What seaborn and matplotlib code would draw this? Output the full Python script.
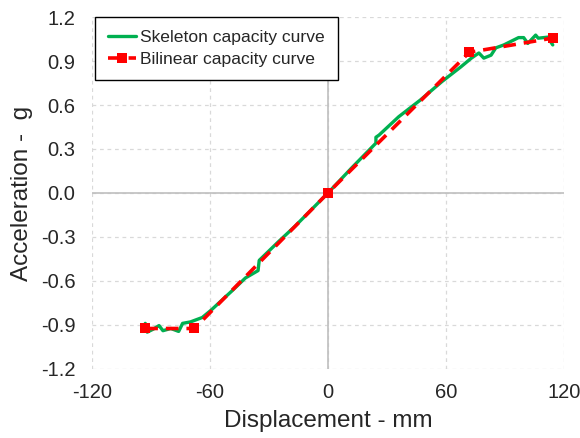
import pandas as pd
import matplotlib
matplotlib.use("Agg")
import matplotlib.pyplot as plt
import seaborn as sns

# skeleton capacity curve (displacement mm, acceleration g)
skel_x = [-93, -92, -89, -86, -84, -80, -76, -74, -70, -64, -59.5, -49, -42, -35.6,
          -35, -25, -17, 0, 12, 24.4, 24.4, 26, 36, 47, 58, 67.6, 73, 76.8,
          79.3, 83, 85.4, 89.5, 94, 97, 99.6, 101.7, 105.7, 107, 111.8, 114.4]
skel_y = [-0.89, -0.95, -0.93, -0.905, -0.94, -0.925, -0.945, -0.89, -0.88, -0.85, -0.80, -0.67, -0.58, -0.53,
          -0.46, -0.33, -0.23, 0.0, 0.17, 0.34, 0.38, 0.395, 0.52, 0.634, 0.76, 0.86, 0.92, 0.955,
          0.92, 0.94, 0.99, 1.01, 1.04, 1.06, 1.06, 1.02, 1.077, 1.056, 1.063, 1.01]

# bilinear capacity curve
bil_x = [-93, -68, 0, 72, 114.5]
bil_y = [-0.925, -0.925, 0.0, 0.96, 1.057]

x_ticks = [-120, -60, 0, 60, 120]
y_ticks = [-1.2, -0.9, -0.6, -0.3, 0.0, 0.3, 0.6, 0.9, 1.2]

sns.set_style("white")
plt.rcParams["font.family"] = ["Liberation Sans", "DejaVu Sans"]
plt.rcParams["axes.unicode_minus"] = False

fig = plt.figure(figsize=(5.8, 4.38), dpi=100)
ax = fig.add_axes([0.159, 0.158, 0.813, 0.803])

skel = pd.DataFrame({"x": skel_x, "y": skel_y})
bil = pd.DataFrame({"x": bil_x, "y": bil_y})

sns.lineplot(data=skel, x="x", y="y", sort=False, estimator=None, color="#00B050",
             lw=2.4, ax=ax, label="Skeleton capacity curve", zorder=3)
sns.lineplot(data=bil, x="x", y="y", sort=False, estimator=None, color="#FF0000",
             lw=2.6, marker="s", markersize=7, markeredgewidth=0,
             ax=ax, label="Bilinear capacity curve", zorder=4)
ax.lines[-1].set_linestyle((0, (3.5, 2.2)))

ax.set_xlim(-120, 120)
ax.set_ylim(-1.2, 1.2)
ax.set_xticks(x_ticks)
ax.set_yticks(y_ticks)
ax.set_yticklabels([f"{v:.1f}" for v in y_ticks])
ax.tick_params(axis="both", length=0, labelsize=14.5)
ax.tick_params(axis="x", pad=10)
ax.tick_params(axis="y", pad=12)

# dashed grid, solid zero axes like the original
ax.grid(True, color="#d9d9d9", linestyle=(0, (3, 3)), lw=0.9)
for s in ax.spines.values():
    s.set_visible(False)
ax.axhline(0, color="#bfbfbf", lw=1.2, zorder=2)
ax.axvline(0, color="#bfbfbf", lw=1.2, zorder=2)

ax.set_xlabel("Displacement - mm", fontsize=17.5, labelpad=6)
ax.set_ylabel("Acceleration -  g", fontsize=17.5, labelpad=6)

leg = ax.legend(loc="upper left", bbox_to_anchor=(0.006, 1.0), borderaxespad=0,
                fancybox=False, framealpha=1, edgecolor="black", fontsize=12.6,
                handlelength=1.6, handletextpad=0.2, borderpad=0.75, labelspacing=0.35)
leg.get_frame().set_linewidth(1.0)

fig.savefig("out.png", dpi=100)
